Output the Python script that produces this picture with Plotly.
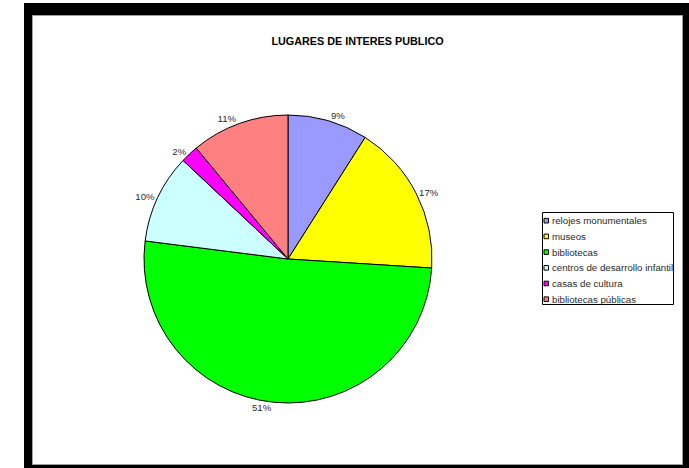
import plotly.graph_objects as go

# Category names, shares (percent) and slice colours
categorias = [
    "relojes monumentales",
    "museos",
    "bibliotecas",
    "centros de desarrollo infantil",
    "casas de cultura",
    "bibliotecas públicas",
]
porcentajes = [9, 17, 51, 10, 2, 11]
colores = ["#9999FF", "#FFFF00", "#00FF00", "#CCFFFF", "#FF00FF", "#FF8080"]

W, H = 689, 468
FONT = "Liberation Sans, Arial, sans-serif"


def px_x(x):
    return x / W


def px_y(y):
    return 1 - y / H


fig = go.Figure(
    go.Pie(
        labels=categorias,
        values=porcentajes,
        sort=False,
        direction="clockwise",
        rotation=0,
        marker=dict(colors=colores, line=dict(color="black", width=1)),
        textposition="outside",
        texttemplate="%{percent:.0%}",
        textfont=dict(family=FONT, size=9.6, color="#2a2a2a"),
        hoverinfo="label+percent",
        showlegend=False,
        domain=dict(
            x=[px_x(288 - 144), px_x(288 + 144)],
            y=[px_y(259 + 144), px_y(259 - 144)],
        ),
    )
)

# Chart frame: heavy black border with a thin grey inner edge
shapes = [
    dict(type="rect", xref="paper", yref="paper",
         x0=px_x(24), x1=px_x(700), y0=px_y(480), y1=px_y(3),
         fillcolor="black", line=dict(width=0), layer="below"),
    dict(type="rect", xref="paper", yref="paper",
         x0=px_x(32.5), x1=px_x(682.5), y0=px_y(464.5), y1=px_y(15.5),
         fillcolor="white", line=dict(color="#a0a0a0", width=1), layer="below"),
]
annotations = []

# Legend box with one small swatch and label per category
LEG_LEFT, LEG_RIGHT, LEG_TOP, LEG_BOTTOM = 542.5, 673.5, 212.5, 304.5
ROW0, ROW_STEP = 220.7, 15.7
shapes.append(dict(type="rect", xref="paper", yref="paper",
                   x0=px_x(LEG_LEFT), x1=px_x(LEG_RIGHT),
                   y0=px_y(LEG_BOTTOM), y1=px_y(LEG_TOP),
                   fillcolor="white", line=dict(color="black", width=1),
                   layer="above"))
for i, (nombre, color) in enumerate(zip(categorias, colores)):
    yc = ROW0 + i * ROW_STEP
    shapes.append(dict(type="rect", xref="paper", yref="paper",
                       x0=px_x(544), x1=px_x(548.5),
                       y0=px_y(yc + 2.3), y1=px_y(yc - 2.3),
                       fillcolor=color, line=dict(color="black", width=1),
                       layer="above"))
    annotations.append(dict(xref="paper", yref="paper",
                            x=px_x(549.5), y=px_y(yc),
                            xanchor="left", yanchor="middle",
                            text=nombre, showarrow=False,
                            font=dict(family=FONT, size=9.7, color="#2a2a2a")))

fig.update_layout(
    width=W,
    height=H,
    margin=dict(l=0, r=0, t=0, b=0, autoexpand=False),
    paper_bgcolor="white",
    plot_bgcolor="white",
    shapes=shapes,
    annotations=annotations,
    font=dict(family=FONT, color="black"),
    title=dict(
        text="<b>LUGARES DE INTERES PUBLICO</b>",
        x=px_x(357.5), xanchor="center",
        y=px_y(41), yanchor="middle",
        font=dict(family=FONT, size=10.8, color="black"),
    ),
    showlegend=False,
)

fig.write_html("out.html")
